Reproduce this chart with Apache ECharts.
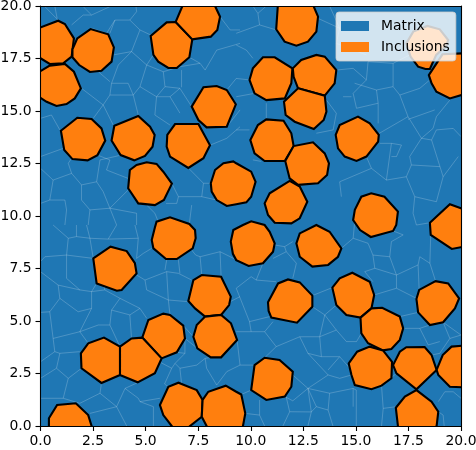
<!DOCTYPE html>
<html><head><meta charset="utf-8">
<style>html,body{margin:0;padding:0;background:#fff}#c{width:476px;height:450px}</style>
<script src="https://cdn.jsdelivr.net/npm/echarts@6/dist/echarts.min.js"></script>
</head><body><div id="c"></div>
<script>
const seriesNames = ['Matrix', 'Inclusions'];
const axisMin = 0, axisMax = 20, tickStep = 2.5;
const inclusionPolygons = [
[[-0.2,19.05],[0,18.98],[0.84,19.30],[1.16,19.14],[1.59,18.46],[1.48,17.59],[1.08,17.27],[0.44,17.24],[0,17.51],[-0.2,17.6]],
[[1.52,17.94],[1.75,18.46],[2.38,18.90],[3.22,18.65],[3.49,18.03],[3.38,17.35],[2.90,16.92],[2.35,16.86],[1.84,17.19],[1.52,17.56]],
[[-0.2,17.0],[0,16.90],[0.44,17.16],[1.16,17.24],[1.59,16.87],[1.92,16.08],[1.63,15.60],[1.24,15.33],[0.76,15.24],[0.29,15.44],[0,15.63],[-0.2,15.75]],
[[5.24,18.57],[6.0,19.22],[6.43,19.24],[7.22,18.41],[7.08,17.56],[6.48,17.05],[6.08,17.05],[5.60,17.35],[5.37,17.67]],
[[6.43,19.24],[6.75,20],[6.85,20.2],[8.2,20.2],[8.30,20],[8.54,19.49],[8.41,18.86],[8.10,18.54],[7.22,18.41]],
[[7.19,15.21],[7.75,16.13],[8.38,16.19],[8.86,16.0],[9.29,15.32],[8.86,14.25],[7.90,14.22],[7.51,14.57]],
[[0.97,14.06],[1.75,14.68],[2.43,14.62],[2.90,14.17],[3.08,13.59],[2.71,12.90],[2.24,12.65],[1.52,12.71],[1.13,13.14]],
[[3.51,14.30],[4.65,14.76],[5.21,14.25],[5.43,13.86],[5.33,13.30],[4.97,12.86],[4.46,12.65],[3.81,12.90],[3.38,13.59]],
[[6.03,13.86],[6.40,14.38],[7.51,14.38],[8.06,13.37],[7.75,12.75],[7.03,12.29],[6.16,12.83],[6.0,13.30]],
[[4.25,12.19],[4.57,12.43],[5.05,12.56],[5.52,12.48],[5.84,12.11],[6.25,11.54],[5.87,10.76],[5.44,10.52],[4.65,10.60],[4.17,11.32]],
[[8.10,11.56],[8.30,12.19],[8.70,12.51],[9.17,12.60],[9.31,12.51],[10.02,12.11],[10.23,11.63],[10.02,10.92],[9.79,10.65],[9.31,10.56],[8.86,10.48],[8.38,10.76],[8.14,11.16]],
[[11.30,20.2],[12.9,20.2],[13.20,19.49],[13.12,18.78],[12.72,18.30],[12.17,18.11],[11.61,18.30],[11.21,18.89]],
[[9.94,16.48],[10.10,17.03],[10.58,17.56],[11.14,17.56],[11.98,17.03],[11.93,16.32],[11.62,15.60],[10.74,15.52],[10.18,15.84]],
[[12.0,17.03],[12.40,17.43],[13.12,17.67],[13.52,17.59],[14.07,16.95],[13.99,16.32],[13.52,15.73],[12.25,16.08],[12.04,16.63]],
[[12.25,16.08],[13.52,15.73],[13.60,14.97],[13.47,14.57],[13.0,14.14],[12.09,14.49],[11.66,14.81],[11.58,15.44]],
[[9.98,13.62],[10.34,14.33],[10.74,14.60],[11.56,14.54],[11.93,13.94],[12.04,13.33],[11.62,12.62],[10.66,12.62],[10.18,12.98]],
[[11.64,12.62],[12.04,13.33],[12.96,13.51],[13.52,12.98],[13.72,12.51],[13.63,11.95],[13.20,11.56],[12.25,11.48],[11.85,11.79]],
[[14.04,13.86],[14.23,14.33],[15.10,14.73],[15.66,14.41],[16.09,13.86],[16.06,13.54],[15.50,12.83],[15.03,12.62],[14.47,12.83],[14.15,13.22]],
[[10.66,10.60],[10.90,11.08],[11.85,11.67],[12.33,11.40],[12.69,10.68],[12.33,9.89],[11.93,9.65],[11.14,9.68],[10.82,10.05]],
[[14.87,9.81],[14.95,10.29],[15.26,10.92],[15.73,11.08],[16.36,10.92],[17.0,10.21],[16.92,9.57],[16.77,9.29],[15.71,9.0],[15.2,9.33]],
[[18.52,9.68],[19.47,10.56],[20.2,10.3],[20.2,8.55],[19.56,8.43],[18.56,9.10]],
[[17.40,18.22],[17.73,18.78],[18.40,19.05],[18.99,18.89],[19.39,18.38],[19.3,18.1],[18.82,17.67],[18.52,17.0],[18.31,17.0],[17.96,17.11],[17.60,17.59]],
[[18.47,16.71],[19.12,17.70],[20.2,17.75],[20.2,15.81],[19.47,15.60],[18.83,15.92],[18.60,16.32]],
[[5.29,8.86],[5.44,9.45],[5.52,9.73],[6.16,9.94],[7.08,9.62],[7.35,9.33],[7.38,8.94],[7.24,8.46],[6.48,7.95],[5.97,7.95],[5.37,8.46]],
[[9.05,8.78],[9.17,9.33],[9.63,9.57],[10.02,9.75],[10.66,9.57],[10.90,9.25],[11.14,8.70],[11.06,8.30],[10.58,7.75],[9.90,7.62],[9.31,7.90],[9.15,8.2]],
[[2.51,7.98],[3.33,8.54],[4.10,8.33],[4.49,7.75],[4.57,7.27],[3.86,6.48],[3.63,6.44],[2.67,6.79]],
[[7.03,5.95],[7.27,6.95],[7.67,7.19],[8.59,7.11],[9.05,6.16],[8.97,5.76],[8.59,5.29],[7.83,5.21],[7.35,5.60]],
[[7.27,4.25],[7.43,4.81],[7.83,5.21],[8.59,5.29],[9.06,4.89],[9.35,4.10],[8.59,3.27],[8.10,3.27],[7.46,3.70]],
[[4.84,4.21],[5.13,5.05],[5.84,5.35],[6.16,5.29],[6.79,4.78],[6.87,4.17],[6.48,3.51],[5.76,3.22]],
[[3.78,3.78],[4.33,4.17],[4.84,4.21],[5.76,3.22],[5.44,2.51],[4.62,2.08],[3.78,2.43]],
[[1.92,3.46],[2.27,3.94],[3.02,4.21],[3.78,3.78],[3.78,2.43],[2.90,2.05],[1.95,2.75]],
[[0.40,0.37],[0.79,1.0],[1.68,1.08],[2.27,0.52],[2.43,0],[2.45,-0.2],[0.40,-0.2]],
[[5.68,1.0],[6.08,1.87],[6.56,2.06],[7.43,1.71],[7.71,1.24],[7.67,0.44],[7.11,0],[6.9,-0.2],[6.4,-0.2],[6.24,0],[5.84,0.52]],
[[7.71,1.24],[7.98,1.63],[8.81,1.92],[9.31,1.63],[9.55,1.50],[9.74,0.60],[9.63,0],[9.55,-0.2],[8.0,-0.2],[7.9,0],[7.67,0.44]],
[[12.17,8.70],[12.33,9.17],[13.12,9.57],[13.75,9.25],[14.31,8.46],[14.15,8.06],[13.68,7.67],[12.93,7.59],[12.33,8.06]],
[[10.82,5.89],[11.30,6.79],[11.77,6.98],[12.33,6.84],[12.93,6.21],[12.93,5.68],[12.20,4.92],[10.98,5.16],[10.85,5.48]],
[[13.88,6.59],[14.23,7.03],[14.83,7.30],[15.66,6.87],[15.87,6.24],[15.74,5.60],[15.22,5.16],[14.55,5.29],[14.07,5.76]],
[[15.22,5.16],[15.74,5.60],[16.25,5.63],[17.09,5.21],[17.25,4.65],[17.09,4.10],[16.69,3.67],[16.29,3.60],[15.58,3.94],[15.26,4.41]],
[[17.88,6.05],[18.01,6.48],[18.79,6.90],[19.39,6.79],[19.91,6.08],[19.71,5.60],[19.15,4.94],[18.52,4.81],[17.96,5.41]],
[[14.66,2.98],[15.06,3.54],[15.66,3.78],[16.29,3.60],[16.72,3.06],[16.69,2.27],[16.22,1.92],[15.74,1.75],[14.95,1.95],[14.79,2.43]],
[[16.77,2.90],[17.09,3.54],[17.40,3.75],[18.27,3.76],[18.60,3.38],[18.84,2.67],[17.88,1.75],[16.93,2.51]],
[[18.84,2.67],[19.13,3.38],[19.55,3.78],[20.2,3.83],[20.2,1.84],[19.47,1.87],[18.92,2.43]],
[[16.90,0.87],[17.33,1.40],[17.88,1.71],[18.60,1.16],[18.92,0.68],[18.84,0],[18.8,-0.2],[17.0,-0.2],[17.0,0]],
[[10.02,1.71],[10.18,2.90],[10.66,3.25],[11.37,3.14],[12.0,2.59],[11.93,1.87],[11.62,1.40],[10.74,1.24]]
];
const matrixEdges = [
[[.21,19.97],[.60,19.57],[.84,19.33]],[[.68,20],[.79,19.41]],
[[1.48,19.10],[2.03,19.57],[2.43,19.57],[3.30,19.97]],[[2.03,19.97],[2.43,19.57]],
[[2.43,18.94],[3.14,18.70],[3.54,19.33],[4.25,19.33],[4.57,19.73],[4.54,20]],
[[3.54,19.33],[3.3,18.7]],[[4.25,19.33],[4.73,18.86],[5.24,18.62]],
[[4.73,18.86],[4.33,17.83],[3.46,17.67]],
[[4.33,17.83],[5.05,17.19],[4.73,16.16],[4.41,15.76]],[[3.70,17.19],[4.33,17.83]],
[[3.70,17.19],[3.38,16.32],[3.30,15.76],[4.41,15.76],[4.17,16.32],[3.38,16.32]],
[[5.05,17.19],[5.84,16.87],[5.92,16.16],[6.63,16.08],[7.19,15.21]],[[5.84,16.87],[6.63,17.11],[7.59,17.27],[7.83,16.95],[8.38,17.90],[9.49,18.22]],
[[4.73,16.16],[5.52,15.68],[5.92,16.16]],[[5.52,15.68],[5.44,14.81],[6.16,14.33]],[[4.41,15.76],[4.65,14.81]],
[[3.30,15.76],[2.98,15.29],[3.46,14.33]],[[2.98,15.29],[1.95,16.08]],[[2.98,15.29],[2.51,14.65]],
[[0,12.83],[1.08,13.22]],[[0,12.27],[.60,11.71],[1.48,12.03],[1.32,12.51],[1.48,12.75]],
[[.60,11.71],[.44,10.76],[0,10.60]],[[.44,10.76],[1.16,10.76],[1.24,10.29],[1.16,9.57]],
[[1.48,12.03],[1.95,11.48],[2.67,11.63],[2.98,11.16],[3.30,10.37],[2.35,10.29],[1.95,10.76],[1.95,11.48]],
[[2.67,11.63],[2.83,12.67],[3.54,12.83],[3.81,12.90]],[[3.30,10.37],[3.62,9.57]],[[3.3,10.37],[4.57,10.13],[4.57,9.57]],[[2.35,10.29],[2.27,9.57]],
[[8.54,19.49],[9.02,18.86],[9.49,18.86]],[[2.71,12.9],[3.30,12.67],[3.14,12.19],[4.17,11.79]],
[[9.31,18.70],[10.42,19.10],[11.21,18.86]],[[10.42,19.10],[10.34,19.65],[10.74,20]],[[10.10,20],[10.34,19.65]],
[[9.31,18.14],[9.79,17.90],[10.10,17.51]],[[13.20,19.41],[14.23,18.94],[14.07,18.22],[14.07,17.43]],[[14.23,18.94],[13.75,20]],
[[14.07,18.22],[15.50,17.67]],[[14.07,16.95],[14.87,17.03],[15.50,16.48],[15.58,17.35],[16.77,17.27],[17.56,17.67]],
[[15.50,16.48],[14.87,15.84],[15.03,15.13],[16.06,15.37],[15.98,16.0],[14.94,16.32]],
[[15.98,16.0],[16.77,16.16],[16.77,17.27]],[[16.77,16.16],[17.09,15.76],[18.04,16.08],[18.52,16.48]],
[[17.09,15.76],[17.48,14.73],[18.12,13.70],[18.67,14.17],[18.83,14.73],[19.47,15.52]],
[[17.48,14.73],[15.98,13.86]],[[17.48,14.6],[18.75,15.05]],[[16.06,15.37],[16.06,14.41]],
[[18.12,13.70],[17.56,12.83],[17.64,12.43],[19.0,12.35],[18.60,13.62],[18.12,13.70]],
[[18.60,13.62],[18.83,14.10],[19.63,14.17],[20,13.78]],[[19.0,12.35],[19.15,11.87],[19.87,12.83]],
[[17.64,12.43],[17.40,11.87],[16.45,11.71],[15.74,12.27],[14.23,11.63],[14.31,10.92]],
[[17.40,11.87],[17.80,10.92],[18.83,10.68],[19.15,11.87]],[[17.80,10.92],[17.72,10.13],[17.88,9.57],[18.52,9.68]],
[[16.45,11.71],[16.69,13.46],[17.17,13.38],[16.93,12.83],[16.69,12.83]],[[16.14,13.46],[16.69,13.46]],[[15.74,12.27],[15.50,12.83]],
[[13.60,15.52],[14.07,14.89],[13.92,14.10],[13.12,13.94]],[[14.39,15.68],[14.79,15.68]],
[[10.74,15.37],[10.74,14.65]],[[9.31,14.1],[9.94,14.1]],[[9.31,15.68],[10.18,15.84]],[[10.1,12.67],[10.5,12.6]],
[[0,7.83],[.21,8.06],[1.24,8.14],[1.32,8.94],[.60,9.57]],[[1.71,9.57],[1.71,9.02],[2.35,8.94],[2.19,9.57]],
[[2.35,8.94],[3.22,8.90],[3.62,9.57]],[[3.22,8.90],[4.65,8.94],[4.49,9.57]],[[1.32,8.94],[1.71,9.02]],
[[1.24,8.14],[1.24,7.03],[1.87,6.48],[.84,6.71],[0,7.35]],[[.84,6.71],[.92,6.08],[.44,5.44],[0,5.41]],
[[.92,6.08],[1.79,5.44],[2.43,5.60],[2.43,6.40],[1.87,6.48]],[[2.43,5.60],[1.87,4.49],[2.75,4.81],[3.30,4.81]],
[[1.87,4.49],[.60,4.17],[.68,3.54],[0,3.06]],[[.68,3.54],[.92,3.46],[1.87,3.54]],[[1.87,4.49],[2.27,3.94]],
[[.92,3.46],[.76,2.75],[1.32,2.27],[1.95,2.75]],[[.76,2.75],[0,2.27]],
[[1.32,2.27],[1.08,1.32],[1.87,1.08],[2.83,1.56]],[[1.08,1.32],[0,1.32]],
[[2.83,1.56],[3.62,.92],[4.02,1.79],[4.65,2.08]],[[3.62,.92],[2.35,.60]],[[3.62,.92],[4.10,0]],
[[4.02,1.79],[4.65,1.32],[4.73,1.16],[5.68,1.32]],[[4.73,1.16],[5.37,.92],[5.37,0]],
[[3.06,6.48],[3.78,6.08],[4.73,5.60],[5.05,5.13]],[[3.38,5.52],[3.78,6.08]],[[3.30,4.81],[3.38,5.52],[4.25,5.29],[4.73,5.60]],[[2.43,6.40],[3.06,6.48]],
[[4.57,7.19],[4.97,6.95],[6.0,7.35],[6.56,7.27],[7.19,6.95]],[[6.0,7.35],[6.08,6.0],[7.03,5.92]],[[4.97,6.95],[5.05,6.48],[6.08,6.0]],
[[6.0,7.90],[5.92,7.43]],[[4.57,7.98],[4.89,8.22],[5.29,8.46]],[[6.56,7.90],[6.63,7.27]],
[[7.19,8.38],[7.38,8.14],[7.59,8.06],[8.54,8.30],[9.49,7.83]],[[7.59,8.06],[7.67,7.19]],[[8.54,8.30],[8.59,7.11]],[[9.02,5.92],[9.49,6.16]],
[[6.87,3.46],[6.40,2.98],[6.63,2.75],[6.71,2.03],[7.43,1.71]],[[6.63,2.75],[7.43,2.90],[7.83,3.22],[8.10,3.27]],
[[7.90,2.75],[8.38,1.95],[8.86,2.59],[9.49,2.90],[9.35,4.10]],[[5.49,3.14],[6.24,2.75],[6.40,2.98]],
[[11.14,8.62],[11.61,8.54],[12.0,8.78]],[[11.61,8.54],[11.69,8.30]],[[11.06,7.98],[11.69,8.30],[12.17,7.75],[12.0,7.03]],
[[10.58,7.75],[10.26,6.95],[10.02,7.11],[9.31,6.56]],[[10.26,6.95],[11.21,6.87]],[[9.31,6.56],[9.94,4.97],[10.90,5.21]],
[[9.94,4.97],[10.02,4.49],[9.31,4.49]],[[10.02,4.49],[10.66,4.49],[11.06,4.97]],
[[10.66,4.49],[11.21,3.78],[12.33,4.25],[12.72,3.46]],[[12.33,4.25],[13.28,4.25],[13.36,3.30],[12.72,3.46]],
[[12.72,3.46],[13.68,2.43],[14.23,2.27],[14.79,2.43]],[[13.68,2.43],[12.72,1.79],[12.0,2.43]],
[[12.72,1.79],[13.75,1.56],[13.68,.76],[13.91,0]],[[13.75,1.56],[14.87,1.79],[14.87,.92]],[[13.68,.76],[13.12,.92],[12.72,1.79]],
[[13.28,4.25],[14.07,4.57],[14.55,4.02],[15.03,4.02],[15.26,4.41]],[[14.07,4.57],[13.52,5.29]],[[13.36,3.30],[14.23,3.30],[13.68,2.67]],[[14.23,3.30],[14.71,2.75]],
[[14.87,8.94],[15.58,8.70],[15.81,8.14],[16.61,8.06],[16.69,8.78],[17.25,9.10],[16.77,9.29]],[[16.61,8.06],[16.93,7.19],[17.96,7.67],[18.04,8.06],[18.52,7.75],[18.56,9.10]],
[[15.81,8.14],[15.90,7.51],[15.42,7.35],[15.81,6.87]],[[15.90,7.51],[16.93,7.19]],[[16.93,6.56],[16.93,7.19]],[[16.93,6.56],[17.88,6.08]],
[[17.25,4.65],[18.04,4.65],[18.44,3.86],[18.99,4.02]],[[18.04,4.65],[18.52,4.81]],[[19.15,4.94],[19.47,4.17],[18.99,3.46]],[[19.47,4.17],[20,4.33]],
[[15.02,1.71],[15.02,0]],[[16.22,1.92],[16.30,.84],[16.93,.92]],[[16.30,.84],[16.22,0]],
[[18.92,1.16],[19.23,1.63],[19.63,1.63],[20,1.32]],[[18.92,.68],[19.15,.52],[19.2,0]],
[[5.05,17.19],[5.37,17.67]],[[6.63,17.11],[6.48,17.05]],[[7.59,17.27],[7.08,17.56]],[[6.71,16.95],[6.71,16.13]],
[[6.63,16.08],[6.16,15.68],[6.63,14.9]],[[5.52,15.68],[6.16,15.68]],[[1.95,16.08],[1.59,16.87]],[[3.30,16.40],[2.75,16.87]],
[[0,14.65],[.52,14.81],[.92,14.10]],[[4.17,11.24],[3.30,10.37]],[[5.05,10.52],[5.44,10.13],[5.6,9.73]],
[[5.97,10.6],[6.48,10.6],[6.56,10.92]],[[6.25,11.54],[6.56,10.92]],[[7.03,12.29],[7.75,11.56],[8.10,11.56]],
[[7.75,11.56],[7.67,10.92],[6.56,10.92]],[[7.67,10.92],[8.38,10.76]],[[7.19,10.52],[7.08,9.62]],
[[8.06,13.37],[8.86,13.7],[9.49,14.25]],[[8.86,14.25],[9.49,15.05]],[[8.86,16.0],[9.31,16.55],[9.94,16.48]],
[[4.65,8.94],[4.57,7.98]],[[3.06,6.48],[3.0,6.79]],[[2.43,6.40],[2.67,6.79]],[[1.24,8.14],[2.51,7.98]],[[2.35,8.94],[2.51,7.98]],
[[4.25,5.29],[4.33,4.17]],[[3.30,4.81],[3.78,3.78]],[[6.08,6.0],[6.16,5.29]],[[6.79,4.78],[7.27,4.25]],[[6.87,4.17],[7.46,3.70]],
[[6.87,3.46],[6.48,3.51]],[[6.87,3.46],[6.87,4.17]],[[7.90,2.75],[7.83,3.22]],[[2.90,2.05],[2.83,1.56]],[[.44,5.44],[.60,4.17]],
[[5.44,2.51],[5.49,3.14]],[[6.24,2.75],[5.9,2.0],[6.08,1.87]],
[[12.93,6.21],[13.88,6.59]],[[12.93,5.68],[13.52,5.29],[14.07,5.76]],[[13.28,4.25],[13.52,5.29]],[[14.87,8.94],[14.31,8.46]],[[14.87,8.94],[14.95,9.81]],
[[15.87,6.24],[16.93,6.56]],[[17.88,6.08],[17.96,5.41],[17.09,5.21]],[[17.96,7.67],[18.01,6.48]],[[18.52,7.75],[18.79,6.90]],
[[18.99,3.46],[18.60,3.38]],[[19.15,4.94],[20,4.33]],[[15.02,1.71],[14.87,1.79]],[[16.22,1.92],[16.93,2.51]],
[[10.66,3.25],[11.21,3.78]],[[10.02,1.71],[9.55,1.50]],[[9.49,2.90],[10.18,2.90]],
[[12.0,1.2],[11.62,1.40]],[[12.0,1.2],[12.72,1.79]],[[12.72,1.79],[12.88,.67],[12.72,0]],
[[11.69,1.37],[11.85,.68],[11.53,0]],[[10.42,1.24],[10.42,.52],[10.66,0]],[[10.42,.52],[9.74,.6]],[[11.85,.68],[12.88,.67]],[[13.12,.92],[12.88,.67]]
];
function polyData(list){return list.map(p=>p[0]);}
function projected(api,pts){return pts.map(p=>api.coord(p));}
const tickFont = {color:'#000',fontFamily:'DejaVu Sans',fontSize:13.9};
const spine = {show:true,onZero:false,lineStyle:{color:'#000',width:1.1}};
function mkAxis(type,pos,main){
  return {type:'value',position:pos,min:axisMin,max:axisMax,interval:tickStep,z:3,
    axisLine:spine,splitLine:{show:false},
    axisTick:{show:main,length:5,lineStyle:{color:'#000',width:1.1}},
    axisLabel:{show:main,...tickFont,margin:type==='x'?8:9,hideOverlap:false,showMinLabel:true,showMaxLabel:true,formatter:v=>v.toFixed(1)}};
}
const chart = echarts.init(document.getElementById('c'),null,{renderer:'canvas'});
chart.setOption({
  animation:false,
  grid:{left:40.5,top:6,width:420.5,height:420,show:true,backgroundColor:'#1f77b4',borderWidth:0,containLabel:false,outerBoundsMode:'none'},
  xAxis:[mkAxis('x','bottom',true),mkAxis('x','top',false)],
  yAxis:[mkAxis('y','left',true),mkAxis('y','right',false)],
  legend:{orient:'vertical',left:336,top:12,padding:[6,6,6,5],itemGap:5,itemWidth:28,itemHeight:10,icon:'rect',
    backgroundColor:'rgba(255,255,255,0.8)',borderColor:'rgba(204,204,204,0.8)',borderWidth:1,borderRadius:3,
    data:seriesNames,selectedMode:false,itemStyle:{borderWidth:0},
    textStyle:{color:'#000',fontFamily:'DejaVu Sans',fontSize:13.9,padding:[0,0,0,7],lineHeight:16}},
  series:[
    {name:seriesNames[0],type:'custom',coordinateSystem:'cartesian2d',clip:true,silent:true,z:2,
     itemStyle:{color:'#1f77b4'},data:polyData(matrixEdges),
     renderItem:(params,api)=>({type:'polyline',shape:{points:projected(api,matrixEdges[params.dataIndex])},
       style:{fill:null,stroke:'rgba(255,255,255,0.26)',lineWidth:0.8}})},
    {name:seriesNames[1],type:'custom',coordinateSystem:'cartesian2d',clip:true,silent:true,z:2.5,
     itemStyle:{color:'#ff7f0e'},data:polyData(inclusionPolygons),
     renderItem:(params,api)=>({type:'polygon',shape:{points:projected(api,inclusionPolygons[params.dataIndex])},
       style:{fill:'#ff7f0e',stroke:'#000',lineWidth:2.1,lineJoin:'miter'}})}
  ]
});
</script></body></html>
